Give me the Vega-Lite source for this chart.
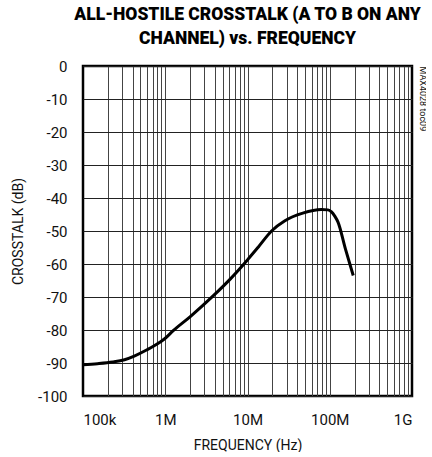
{
  "$schema": "https://vega.github.io/schema/vega-lite/v6.json",
  "width": 329,
  "height": 330,
  "padding": {"left": 11, "top": 5, "right": 0, "bottom": 0},
  "title": {
    "text": ["ALL-HOSTILE CROSSTALK (A TO B ON ANY", "CHANNEL) vs. FREQUENCY"],
    "font": "Roboto",
    "fontSize": 17.5,
    "fontWeight": 900,
    "lineHeight": 24,
    "color": "black",
    "anchor": "middle",
    "offset": 12
  },
  "config": {
    "font": "Roboto",
    "view": {"stroke": "black", "strokeWidth": 2.5},
    "axis": {
      "labelFont": "Roboto",
      "titleFont": "Roboto",
      "labelFontSize": 15,
      "titleFontSize": 14,
      "titleFontWeight": "normal",
      "labelColor": "#111",
      "titleColor": "#111",
      "ticks": false,
      "domain": false,
      "gridOpacity": 1,
      "gridWidth": 1
    }
  },
  "data": {
    "values": [
      {"freq": 100000, "db": -90.5},
      {"freq": 150000, "db": -90.2},
      {"freq": 230000, "db": -89.7},
      {"freq": 320000, "db": -89.0},
      {"freq": 420000, "db": -87.9},
      {"freq": 600000, "db": -86.0},
      {"freq": 860000, "db": -83.7},
      {"freq": 1000000, "db": -82.5},
      {"freq": 1250000, "db": -80.2},
      {"freq": 2000000, "db": -76.0},
      {"freq": 3850000, "db": -69.6},
      {"freq": 6200000, "db": -64.5},
      {"freq": 9800000, "db": -59.0},
      {"freq": 13500000, "db": -54.9},
      {"freq": 19600000, "db": -50.0},
      {"freq": 28500000, "db": -46.9},
      {"freq": 47000000, "db": -44.6},
      {"freq": 79000000, "db": -43.5},
      {"freq": 95000000, "db": -43.6},
      {"freq": 105000000, "db": -44.2},
      {"freq": 115000000, "db": -45.5},
      {"freq": 126000000, "db": -47.3},
      {"freq": 155000000, "db": -55.4},
      {"freq": 193000000, "db": -63.5}
    ]
  },
  "layer": [
    {
      "mark": {"type": "line", "opacity": 0},
      "encoding": {
        "x": {
          "field": "freq", "type": "quantitative",
          "scale": {"type": "log", "domain": [100000, 1000000000]},
          "axis": {
            "orient": "top",
            "values": [200000, 300000, 400000, 500000, 600000, 700000, 800000, 900000, 1000000, 2000000, 3000000, 4000000, 5000000, 6000000, 7000000, 8000000, 9000000, 10000000, 20000000, 30000000, 40000000, 50000000, 60000000, 70000000, 80000000, 90000000, 100000000, 200000000, 300000000, 400000000, 500000000, 600000000, 700000000, 800000000, 900000000],
            "grid": true, "gridColor": "#444", "labels": false, "title": null
          }
        },
        "y": {
          "field": "db", "type": "quantitative",
          "scale": {"domain": [-100, 0]},
          "axis": {
            "orient": "right",
            "grid": false, "labels": false,
            "title": "MAX4028 toc09",
            "titleAngle": 90,
            "titleFontSize": 9,
            "titleAnchor": "end",
            "titleAlign": "left",
            "titlePadding": 5,
            "titleFont": "Roboto"
          }
        }
      }
    },
    {
      "mark": {"type": "line", "color": "black", "strokeWidth": 3, "interpolate": "monotone"},
      "encoding": {
        "x": {
          "field": "freq", "type": "quantitative",
          "scale": {"type": "log", "domain": [100000, 1000000000]},
          "axis": {
            "orient": "bottom",
            "values": [100000, 1000000, 10000000, 100000000, 1000000000],
            "labelExpr": "datum.value >= 1e9 ? '1G' : datum.value >= 1e6 ? format(datum.value / 1e6, 'd') + 'M' : format(datum.value / 1e3, 'd') + 'k'",
            "grid": false,
            "labelPadding": 16,
            "title": "FREQUENCY (Hz)",
            "titlePadding": 11
          }
        },
        "y": {
          "field": "db", "type": "quantitative",
          "scale": {"domain": [-100, 0]},
          "axis": {
            "orient": "left",
            "values": [-100, -90, -80, -70, -60, -50, -40, -30, -20, -10, 0],
            "labelExpr": "'' + datum.value",
            "grid": true,
            "gridColor": "#222",
            "labelPadding": 16,
            "title": "CROSSTALK (dB)",
            "titlePadding": 12
          }
        }
      }
    }
  ],
  "resolve": {"axis": {"x": "independent", "y": "independent"}}
}
